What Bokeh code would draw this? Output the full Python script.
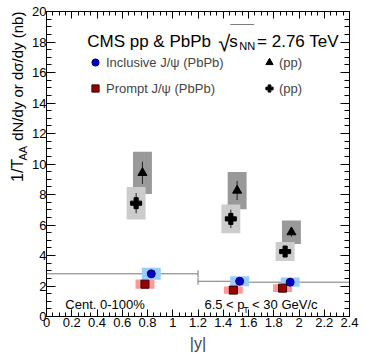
import numpy as np
from math import pi
from bokeh.plotting import figure
from bokeh.layouts import row
from bokeh.models import (ColumnDataSource, Label, Legend, LegendItem, LinearAxis,
                          FixedTicker, Range1d, Whisker, TeeHead, BoxAnnotation,
                          CustomJSTickFormatter)
from bokeh.embed import file_html
from bokeh.resources import INLINE

# ---------------- data ----------------
bin_lo = [0.0, 1.2, 1.6]
bin_hi = [1.2, 1.6, 2.4]

# Inclusive J/psi (PbPb)
inc_pbpb_x = [0.83, 1.53, 1.93]
inc_pbpb_y = [2.80, 2.31, 2.25]
inc_pbpb_syst = [0.39, 0.33, 0.30]

# Prompt J/psi (PbPb)
pr_pbpb_x = [0.78, 1.48, 1.87]
pr_pbpb_y = [2.12, 1.73, 1.86]
pr_pbpb_syst = [0.30, 0.23, 0.26]

# Inclusive J/psi (pp)
inc_pp_x = [0.76, 1.51, 1.94]
inc_pp_y = [9.42, 8.26, 5.53]
inc_pp_stat = [0.73, 0.63, 0.30]
inc_pp_syst = [1.38, 1.22, 0.77]

# Prompt J/psi (pp)
pr_pp_x = [0.71, 1.46, 1.89]
pr_pp_y = [7.43, 6.40, 4.26]
pr_pp_stat = [0.66, 0.60, 0.30]
pr_pp_syst = [1.07, 0.94, 0.62]

x_ticks = [0, 0.2, 0.4, 0.6, 0.8, 1, 1.2, 1.4, 1.6, 1.8, 2, 2.2, 2.4]
x_tick_labels = ["0", "0.2", "0.4", "0.6", "0.8", "1", "1.2", "1.4", "1.6", "1.8", "2", "2.2", "2.4"]
y_ticks = [0, 2, 4, 6, 8, 10, 12, 14, 16, 18, 20]
y_tick_labels = ["0", "2", "4", "6", "8", "10", "12", "14", "16", "18", "20"]

box_half = 0.075
FONT = "Liberation Sans"
LEFT_W = 29
TOTAL_W = 366
TOTAL_H = 356


def src(x, y, syst=None, stat=None):
    x = np.array(x, dtype=float)
    y = np.array(y, dtype=float)
    d = dict(x=x, y=y, left=x - box_half, right=x + box_half)
    if syst is not None:
        s = np.array(syst, dtype=float)
        d["top"] = y + s
        d["bottom"] = y - s
    if stat is not None:
        e = np.array(stat, dtype=float)
        d["up"] = y + e
        d["lo"] = y - e
    return ColumnDataSource(d)


s_inc_pbpb = src(inc_pbpb_x, inc_pbpb_y, inc_pbpb_syst)
s_inc_pbpb.data["blo"] = bin_lo
s_inc_pbpb.data["bhi"] = bin_hi
s_pr_pbpb = src(pr_pbpb_x, pr_pbpb_y, pr_pbpb_syst)
s_inc_pp = src(inc_pp_x, inc_pp_y, inc_pp_syst, inc_pp_stat)
s_pr_pp = src(pr_pp_x, pr_pp_y, pr_pp_syst, pr_pp_stat)

p = figure(width=TOTAL_W - LEFT_W, height=TOTAL_H, x_range=Range1d(0, 2.4), y_range=Range1d(0, 20),
           output_backend="svg", toolbar_location=None,
           min_border_left=44 - LEFT_W, min_border_right=17, min_border_top=11, min_border_bottom=40)
p.grid.visible = False
p.outline_line_color = "black"
p.background_fill_color = "white"

# systematic boxes
p.quad(left="left", right="right", top="top", bottom="bottom", source=s_inc_pp,
       fill_color="#999999", line_color=None)
p.quad(left="left", right="right", top="top", bottom="bottom", source=s_pr_pp,
       fill_color="#cccccc", line_color=None)
p.quad(left="left", right="right", top="top", bottom="bottom", source=s_inc_pbpb,
       fill_color="#99ccff", line_color=None)
p.quad(left="left", right="right", top="top", bottom="bottom", source=s_pr_pbpb,
       fill_color="#ff9999", line_color=None)

# bin widths for inclusive PbPb
p.add_layout(Whisker(source=s_inc_pbpb, base="y", lower="blo", upper="bhi", dimension="width",
                     line_color="#777777", line_width=1,
                     lower_head=TeeHead(size=7, line_color="#777777", line_width=1),
                     upper_head=TeeHead(size=7, line_color="#777777", line_width=1)))

# statistical errors (pp)
p.segment(x0="x", y0="lo", x1="x", y1="up", source=s_inc_pp, line_color="#222222", line_width=1)
p.segment(x0="x", y0="lo", x1="x", y1="up", source=s_pr_pp, line_color="#222222", line_width=1)

r_tri = p.scatter("x", "y", source=s_inc_pp, marker="triangle", size=9,
                  fill_color="black", line_color="black")
r_plus = p.scatter("x", "y", source=s_pr_pp, marker="plus", size=11,
                   fill_color="black", line_color="black")
r_circ = p.scatter("x", "y", source=s_inc_pbpb, marker="circle", size=8,
                   fill_color="#0000cc", line_color="#000066")
r_sq = p.scatter("x", "y", source=s_pr_pbpb, marker="square", size=8,
                 fill_color="#990000", line_color="#330000")

# axes
for ax, ticks, labels, tin, tmin, minor, stand in (
        (p.xaxis[0], x_ticks, x_tick_labels, 7, 4, list(np.arange(0, 2.401, 0.05)), 1),
        (p.yaxis[0], y_ticks, y_tick_labels, 9, 5, list(np.arange(0, 20.01, 0.5)), 0)):
    ax.ticker = FixedTicker(ticks=ticks, minor_ticks=minor)
    ax.major_label_overrides = {t: l for t, l in zip(ticks, labels)}
    ax.major_tick_in = tin
    ax.major_tick_out = 0
    ax.minor_tick_in = tmin
    ax.minor_tick_out = 0
    ax.axis_line_color = "black"
    ax.major_label_text_font = FONT
    ax.major_label_text_font_size = "13px"
    ax.major_label_text_color = "black"
    ax.major_label_standoff = stand

p.xaxis[0].axis_label = "|y|"
p.xaxis[0].axis_label_text_font = FONT
p.xaxis[0].axis_label_text_font_size = "16px"
p.xaxis[0].axis_label_text_font_style = "normal"
p.xaxis[0].axis_label_standoff = 5

empty = CustomJSTickFormatter(code="return ''")
for side, ticks, tin, tmin, minor in (
        ("right", y_ticks, 9, 5, list(np.arange(0, 20.01, 0.5))),
        ("above", x_ticks, 7, 4, list(np.arange(0, 2.401, 0.05)))):
    ax = LinearAxis(ticker=FixedTicker(ticks=ticks, minor_ticks=minor), formatter=empty,
                    major_tick_in=tin, major_tick_out=0, minor_tick_in=tmin, minor_tick_out=0,
                    major_label_text_font_size="0px", major_label_standoff=0,
                    axis_line_color="black")
    p.add_layout(ax, side)

# legends
leg_common = dict(label_text_font=FONT, label_text_font_size="13px", glyph_width=18,
                  glyph_height=20, label_height=20, spacing=6, padding=0, margin=0,
                  border_line_color=None, background_fill_alpha=0, label_standoff=2)
leg1 = Legend(items=[LegendItem(label="Inclusive J/ψ (PbPb)", renderers=[r_circ]),
                     LegendItem(label="Prompt J/ψ (PbPb)", renderers=[r_sq])],
              location=(40, 218), **leg_common)
leg2 = Legend(items=[LegendItem(label="(pp)", renderers=[r_tri]),
                     LegendItem(label="(pp)", renderers=[r_plus])],
              location=(214, 218), **leg_common)
leg2.label_standoff = 1
p.add_layout(leg1, "center")
p.add_layout(leg2, "center")


def px2x(px):
    return (px - 44) / 127.1


def py2y(py):
    return (316 - py) / 15.25


def lab(fig, text, x, y, size, **kw):
    fig.add_layout(Label(x=x, y=y, text=text, text_font=FONT,
                         text_font_size=f"{size}px", text_color="black",
                         text_baseline=kw.pop("baseline", "alphabetic"), **kw))


# header
lab(p, "CMS pp & PbPb", px2x(85), py2y(41), 17)
lab(p, "√", px2x(217), py2y(43), 22)
lab(p, "s", px2x(228), py2y(41), 17)
lab(p, "NN", px2x(238), py2y(45), 11)
lab(p, "= 2.76 TeV", px2x(256), py2y(41), 17)
p.add_layout(BoxAnnotation(left=px2x(229), right=px2x(253), top=py2y(24), bottom=py2y(24),
                           fill_alpha=0, line_color="black", line_width=1))

# bottom notes
lab(p, "Cent. 0-100%", px2x(63), py2y(304), 13)
lab(p, "6.5 < p", px2x(203), py2y(304), 13)
lab(p, "T", px2x(242), py2y(309), 9)
lab(p, "< 30 GeV/c", px2x(251), py2y(304), 13)

# y axis title, drawn in a narrow strip left of the plot (page pixel coordinates)
ylab = figure(width=LEFT_W, height=TOTAL_H, x_range=Range1d(0, LEFT_W),
              y_range=Range1d(TOTAL_H, 0), output_backend="svg", toolbar_location=None,
              min_border=0, outline_line_color=None, x_axis_type=None, y_axis_type=None)
ylab.grid.visible = False
lab(ylab, "1/T", 25, 199, 16, angle=pi / 2, baseline="bottom")
lab(ylab, "AA", 28.8, 174, 11, angle=pi / 2, baseline="bottom")
lab(ylab, "dN/dy  or  dσ/dy (nb)", 25, 151, 15, angle=pi / 2, baseline="bottom")

layout = row(ylab, p, spacing=0)
open("out.html", "w").write(file_html(layout, INLINE))
